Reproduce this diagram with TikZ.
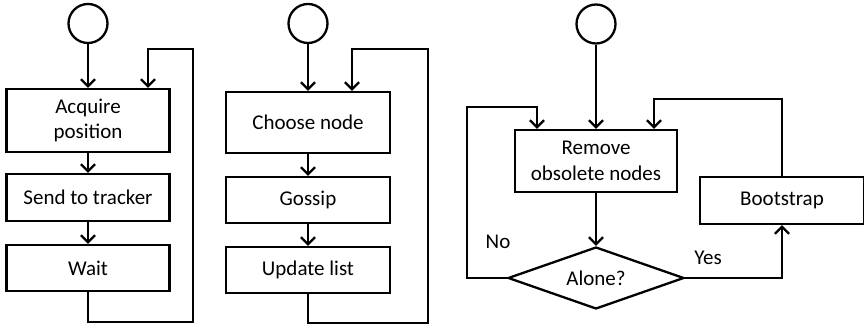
\documentclass[tikz,border=0pt]{standalone}
\usepackage{fontspec}
\setmainfont{Carlito}
\usetikzlibrary{arrows.meta,shapes.geometric}
\begin{document}
\begin{tikzpicture}[x=1pt,y=-1pt,
  every node/.style={font=\fontsize{21}{25.5}\selectfont},
  flowbox/.style={draw,line width=2.3pt,rectangle,inner sep=0pt,align=center},
  startcirc/.style={draw,line width=2.3pt,circle,minimum size=39pt,inner sep=0pt},
  decide/.style={draw,line width=2.3pt,diamond,minimum width=176pt,minimum height=62pt,inner sep=0pt,aspect=2.8},
  conn/.style={line width=2.3pt,-{Straight Barb[length=7pt,width=14pt]}},
  plainline/.style={line width=2.3pt},
  lbl/.style={inner sep=0pt}]
\useasboundingbox (0,0) rectangle (864,328);
% diagram 1
\node[startcirc] (c1) at (88,23.5) {};
\node[flowbox,minimum width=163pt,minimum height=63pt] (a1) at (88,120.5) {Acquire\\position};
\node[flowbox,minimum width=163pt,minimum height=47pt] (a2) at (88,197.5) {Send to tracker};
\node[flowbox,minimum width=163pt,minimum height=46pt] (a3) at (88,268) {Wait};
\coordinate (l1) at (148,49);
\draw[conn] (c1) -- (a1);
\draw[conn] (a1) -- (a2);
\draw[conn] (a2) -- (a3);
\draw[conn] (a3.south) -- (88,322) -- (193,322) -- (193,49) -- (l1) -- (l1 |- a1.north);
% diagram 2
\node[startcirc] (c2) at (308,23.5) {};
\node[flowbox,minimum width=164pt,minimum height=61pt] (b1) at (308,122.5) {Choose node};
\node[flowbox,minimum width=164pt,minimum height=46pt] (b2) at (308,200) {Gossip};
\node[flowbox,minimum width=164pt,minimum height=46pt] (b3) at (308,270) {Update list};
\coordinate (l2) at (352,49);
\draw[conn] (c2) -- (b1);
\draw[conn] (b1) -- (b2);
\draw[conn] (b2) -- (b3);
\draw[conn] (b3.south) -- (308,323) -- (428,323) -- (428,49) -- (l2) -- (l2 |- b1.north);
% diagram 3
\node[startcirc] (c3) at (596,24) {};
\node[flowbox,minimum width=162pt,minimum height=62pt] (r1) at (596,161) {Remove\\obsolete nodes};
\node[flowbox,minimum width=164pt,minimum height=47pt] (bs) at (782,200.5) {Bootstrap};
\node[decide] (dm) at (596,278) {Alone?};
\node[lbl] (no) at (498,242) {No};
\node[lbl] (yes) at (708,258) {Yes};
\coordinate (n1) at (537,107);
\coordinate (n2) at (654,99);
\draw[conn] (c3) -- (r1);
\draw[conn] (r1) -- (dm);
\draw[conn] (dm.west) -- (467,278) -- (467,107) -- (n1) -- (n1 |- r1.north);
\draw[conn] (dm.east) -| (bs.south);
\draw[conn] (bs.north) |- (n2) -- (n2 |- r1.north);
\end{tikzpicture}
\end{document}
